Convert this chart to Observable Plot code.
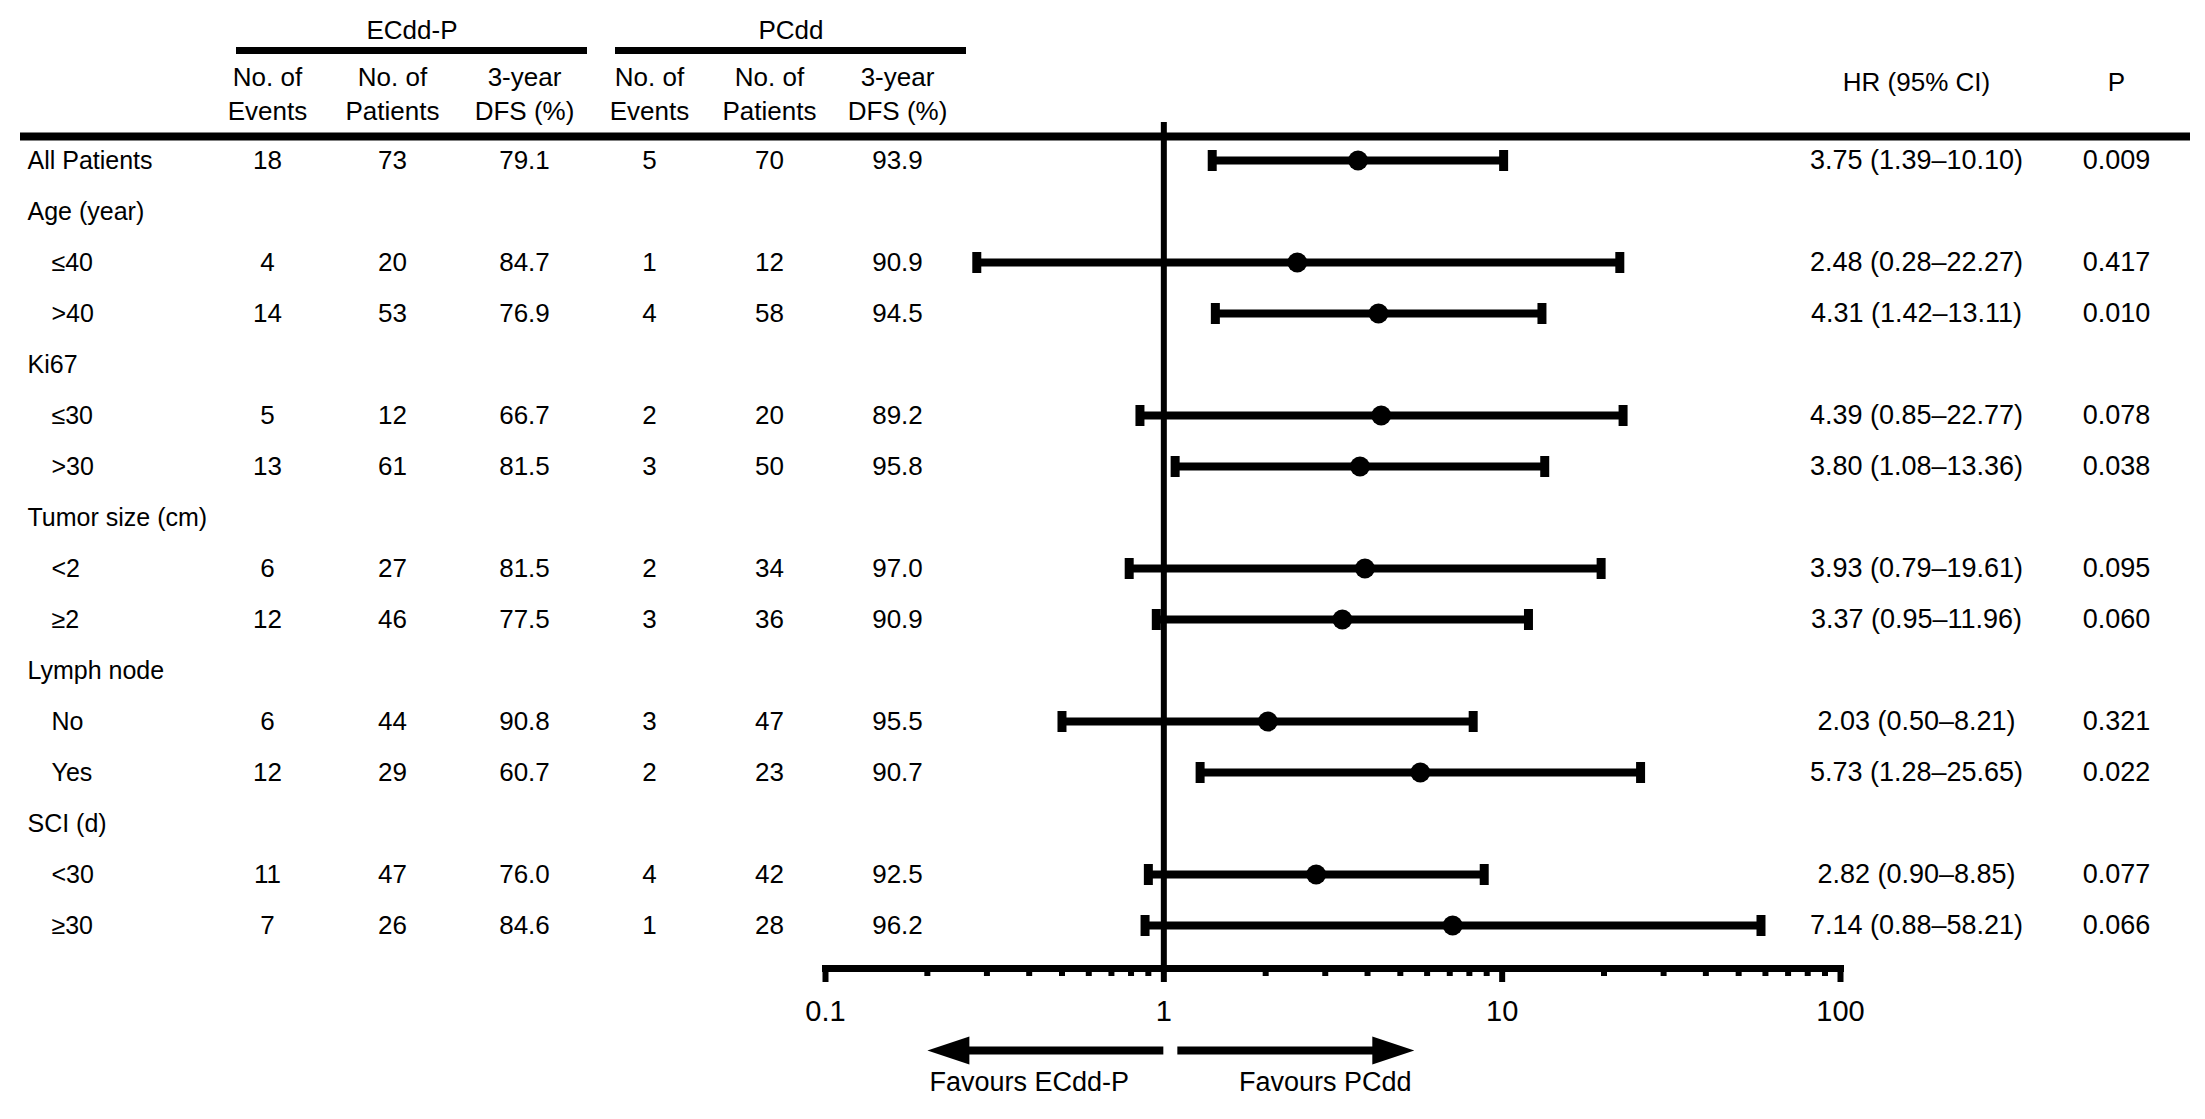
<!DOCTYPE html>
<html>
<head>
<meta charset="utf-8">
<script src="https://cdn.jsdelivr.net/npm/d3@7"></script>
<script src="https://cdn.jsdelivr.net/npm/@observablehq/plot@0.6"></script>
<style>
  html, body { margin: 0; padding: 0; background: #fff; }
  #chart { position: relative; width: 2205px; height: 1119px; overflow: hidden; }
  #chart svg { position: absolute; left: 0; top: 0; }
</style>
</head>
<body>
<div id="chart"></div>
<script>
// ---------------- DATA ----------------
const rowLabels = ["All Patients", "Age (year)", "≤40", ">40", "Ki67", "≤30", ">30",
  "Tumor size (cm)", "<2", "≥2", "Lymph node", "No", "Yes", "SCI (d)", "<30", "≥30"];
const eventsE   = [18, null, 4, 14, null, 5, 13, null, 6, 12, null, 6, 12, null, 11, 7];
const patientsE = [73, null, 20, 53, null, 12, 61, null, 27, 46, null, 44, 29, null, 47, 26];
const dfsE      = [79.1, null, 84.7, 76.9, null, 66.7, 81.5, null, 81.5, 77.5, null, 90.8, 60.7, null, 76.0, 84.6];
const eventsP   = [5, null, 1, 4, null, 2, 3, null, 2, 3, null, 3, 2, null, 4, 1];
const patientsP = [70, null, 12, 58, null, 20, 50, null, 34, 36, null, 47, 23, null, 42, 28];
const dfsP      = [93.9, null, 90.9, 94.5, null, 89.2, 95.8, null, 97.0, 90.9, null, 95.5, 90.7, null, 92.5, 96.2];
const hazardRatio = [3.75, null, 2.48, 4.31, null, 4.39, 3.80, null, 3.93, 3.37, null, 2.03, 5.73, null, 2.82, 7.14];
const ciLow       = [1.39, null, 0.28, 1.42, null, 0.85, 1.08, null, 0.79, 0.95, null, 0.50, 1.28, null, 0.90, 0.88];
const ciHigh      = [10.10, null, 22.27, 13.11, null, 22.77, 13.36, null, 19.61, 11.96, null, 8.21, 25.65, null, 8.85, 58.21];
const pValue      = [0.009, null, 0.417, 0.010, null, 0.078, 0.038, null, 0.095, 0.060, null, 0.321, 0.022, null, 0.077, 0.066];

const groupNames  = ["ECdd-P", "PCdd"];
const colHeaders  = ["No. of\nEvents", "No. of\nPatients", "3-year\nDFS (%)"];
const statHeaders = ["HR (95% CI)", "P"];
const majorTicks  = [0.1, 1, 10, 100];
const minorTicks  = [0.2, 0.3, 0.4, 0.5, 0.6, 0.7, 0.8, 0.9, 2, 3, 4, 5, 6, 7, 8, 9, 20, 30, 40, 50, 60, 70, 80, 90];
const favours = [
  {label: "Favours ECdd-P", from: 1, to: 0.2, labelAt: 0.4},
  {label: "Favours PCdd", from: 1.1, to: 5.5, labelAt: 3}
];

// ---------------- LAYOUT (pixels) ----------------
const W = 2205, H = 1119;
const FONT = "'Liberation Sans', Arial, sans-serif";
const colX = {label: 27, indent: 51, e1: 267, p1: 392, d1: 524, e2: 649, p2: 769, d2: 897, hr: 1916, p: 2116};
const groupCols = [["e1", "p1", "d1"], ["e2", "p2", "d2"]];
const groupSpan = [[236, 587], [615, 966]];
const rowRange = [158, 927];
const forestBox = {left: 825, right: 1840, top: 122, axisY: 968};
const baseStyle = {fontFamily: FONT, fontSize: "26px", color: "black", background: "transparent", overflow: "visible"};

// ---------------- TABLES ----------------
const tableRows = rowLabels.map((label, i) => ({
  label, indent: i > 0 && hazardRatio[i] != null,
  e1: eventsE[i], p1: patientsE[i], d1: dfsE[i],
  e2: eventsP[i], p2: patientsP[i], d2: dfsP[i],
  hr: hazardRatio[i], lo: ciLow[i], hi: ciHigh[i], p: pValue[i]
}));
const dataRows = tableRows.filter(d => d.hr != null);

const headerCells = groupNames.flatMap((g, gi) => colHeaders.map((t, ci) => ({text: t, key: groupCols[gi][ci]})));
const groups = groupNames.map((name, i) => ({name, x1: groupSpan[i][0], x2: groupSpan[i][1]}));

const chart = document.getElementById("chart");
const yRows = {type: "point", domain: rowLabels, range: rowRange, padding: 0, axis: null};

// Header layer
chart.append(Plot.plot({
  width: W, height: H, margin: 0,
  x: {type: "identity", axis: null}, y: {type: "identity", axis: null},
  style: baseStyle,
  marks: [
    Plot.text(groups, {x: d => (d.x1 + d.x2) / 2, y: 30, text: "name", fontSize: 26}),
    Plot.ruleY(groups, {x1: "x1", x2: "x2", y: 50, strokeWidth: 7}),
    Plot.text(headerCells, {x: d => colX[d.key], y: 92, text: "text", lineHeight: 1.3, fontSize: 26}),
    Plot.text(statHeaders, {x: (d, i) => [colX.hr, colX.p][i], y: 82, text: d => d, fontSize: 26}),
    Plot.ruleY([136], {x1: 20, x2: 2190, y: d => d, strokeWidth: 8})
  ]
}));

// Table body layer
const numCols = [
  ["e1", d => String(d.e1)], ["p1", d => String(d.p1)], ["d1", d => d.d1.toFixed(1)],
  ["e2", d => String(d.e2)], ["p2", d => String(d.p2)], ["d2", d => d.d2.toFixed(1)],
  ["hr", d => `${d.hr.toFixed(2)} (${d.lo.toFixed(2)}–${d.hi.toFixed(2)})`],
  ["p", d => d.p.toFixed(3)]
];
chart.append(Plot.plot({
  width: W, height: H, margin: 0,
  x: {type: "identity", axis: null},
  y: yRows,
  style: baseStyle,
  marks: [
    Plot.text(tableRows, {x: d => d.indent ? colX.indent : colX.label, y: "label", text: "label", textAnchor: "start", fontSize: 25}),
    ...numCols.map(([k, f]) => Plot.text(dataRows, {x: () => colX[k], y: "label", text: f, fontSize: k === "hr" || k === "p" ? 27 : 26}))
  ]
}));

// Forest layer
const capSymbol = {draw(ctx) { ctx.moveTo(-4.5, -10.5); ctx.lineTo(4.5, -10.5); ctx.lineTo(4.5, 10.5); ctx.lineTo(-4.5, 10.5); ctx.closePath(); }};
chart.append(Plot.plot({
  width: W, height: H,
  marginLeft: forestBox.left, marginRight: W - forestBox.right,
  marginTop: forestBox.top, marginBottom: H - forestBox.axisY,
  x: {type: "log", domain: [0.1, 100], axis: null, label: null},
  y: yRows,
  style: baseStyle,
  marks: [
    Plot.ruleX([1], {strokeWidth: 6}),
    Plot.frame({anchor: "bottom", strokeWidth: 7}),
    Plot.axisX({ticks: majorTicks, tickSize: 14, tickPadding: 18, strokeWidth: 6, fontSize: 29, tickFormat: d => String(d), label: null}),
    Plot.axisX({ticks: minorTicks, tickSize: 8, strokeWidth: 6, tickFormat: () => "", label: null}),
    Plot.ruleY(dataRows, {x1: "lo", x2: "hi", y: "label", strokeWidth: 8}),
    Plot.dot(dataRows, {x: "lo", y: "label", symbol: capSymbol, fill: "black", stroke: "none"}),
    Plot.dot(dataRows, {x: "hi", y: "label", symbol: capSymbol, fill: "black", stroke: "none"}),
    Plot.dot(dataRows, {x: "hr", y: "label", r: 10, fill: "black", stroke: "none"})
  ]
}));

// Annotation layer (favours arrows)
const arrowHead = {draw(ctx) { ctx.moveTo(0, 0); ctx.lineTo(-42, -14); ctx.lineTo(-42, 14); ctx.closePath(); }};
chart.append(Plot.plot({
  width: W, height: H,
  marginLeft: forestBox.left, marginRight: W - forestBox.right, marginTop: 0, marginBottom: 0,
  x: {type: "log", domain: [0.1, 100], axis: null, label: null},
  y: {type: "identity", axis: null},
  style: baseStyle,
  marks: [
    Plot.ruleY(favours.filter(d => d.to < d.from), {x1: "to", x2: "from", y: () => 1050, insetLeft: 30, strokeWidth: 8}),
    Plot.ruleY(favours.filter(d => d.to > d.from), {x1: "from", x2: "to", y: () => 1050, insetRight: 30, strokeWidth: 8}),
    Plot.dot(favours, {x: "to", y: () => 1050, symbol: arrowHead, rotate: d => d.to < d.from ? 180 : 0, fill: "black", stroke: "none"}),
    Plot.text(favours, {x: "labelAt", y: () => 1082, text: "label", fontSize: 27})
  ]
}));
</script>
</body>
</html>
